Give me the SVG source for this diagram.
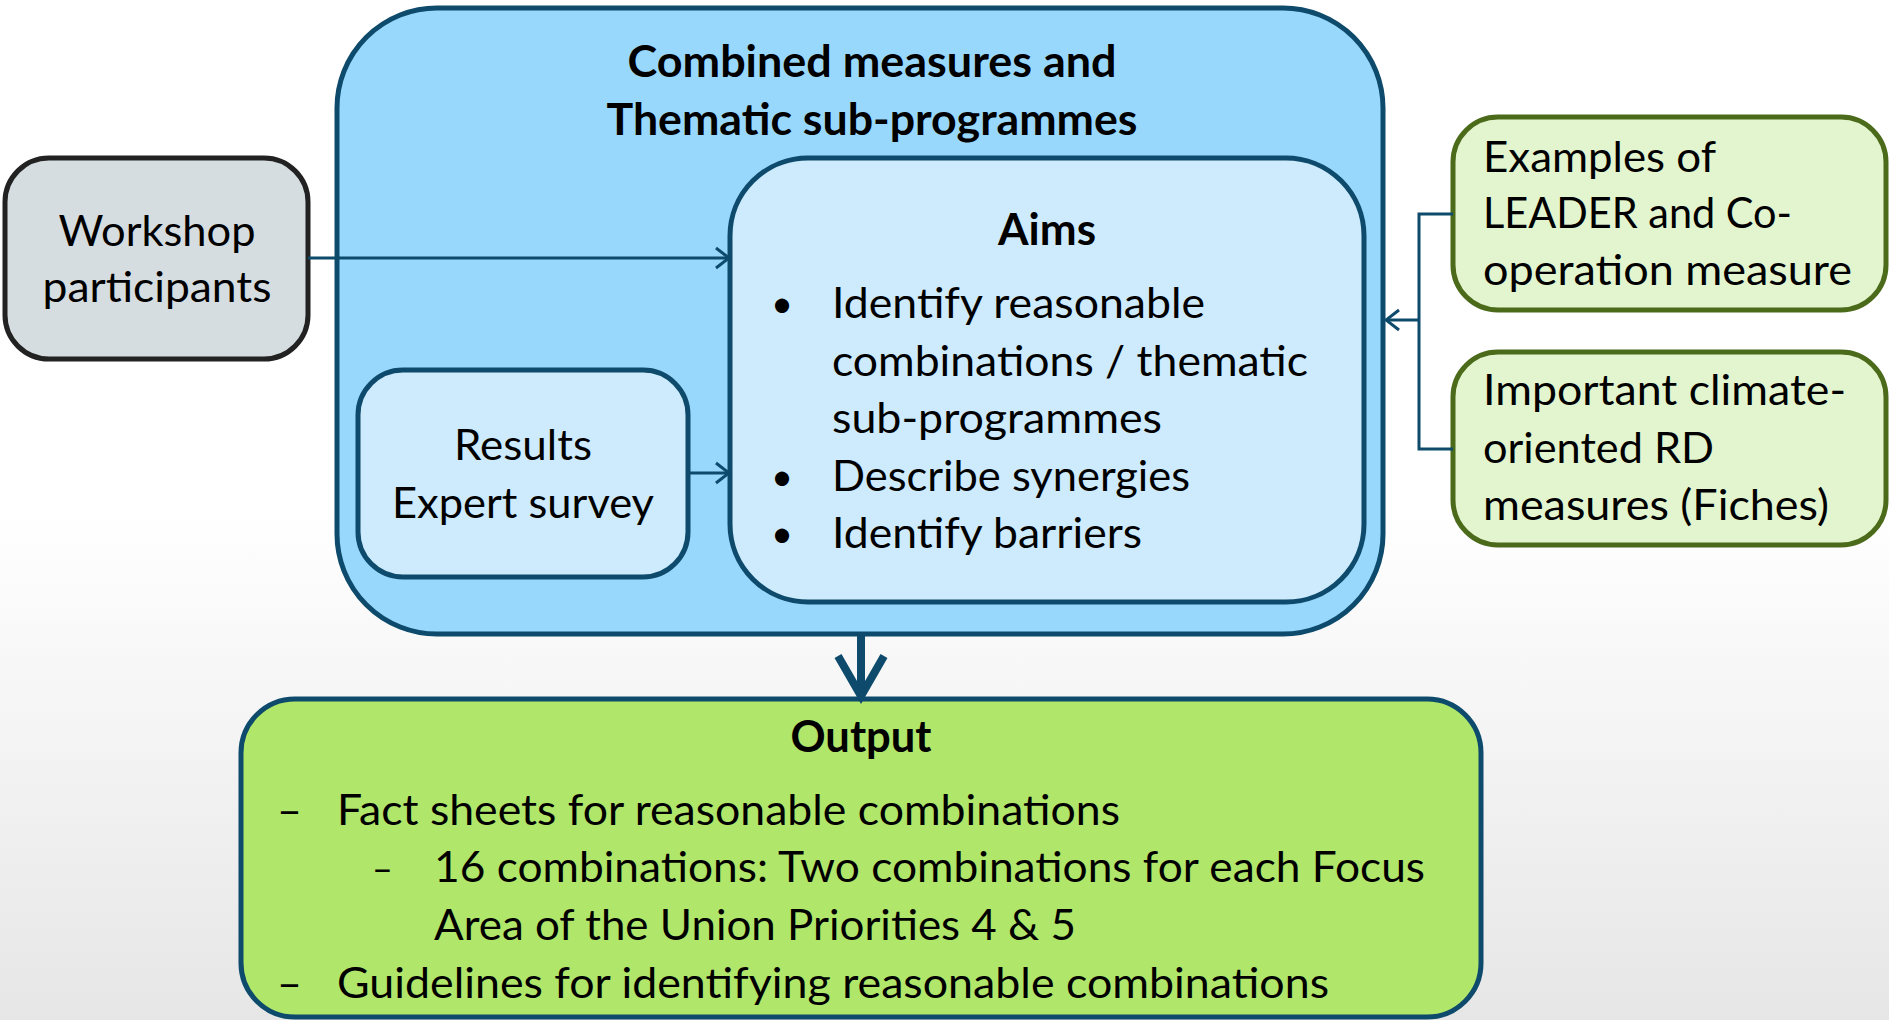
<svg xmlns="http://www.w3.org/2000/svg" width="1889" height="1020" viewBox="0 0 1889 1020">
<defs>
<linearGradient id="bg" x1="0" y1="0" x2="0" y2="1">
<stop offset="0" stop-color="#ffffff"/>
<stop offset="0.5" stop-color="#ffffff"/>
<stop offset="1" stop-color="#e6e6e6"/>
</linearGradient>
<marker id="open" markerUnits="userSpaceOnUse" viewBox="0 0 16 24" refX="14" refY="12" markerWidth="16" markerHeight="24" orient="auto">
<path d="M1,2 L14,12 L1,22" fill="none" stroke="#0d4a6b" stroke-width="3"/>
</marker>
<marker id="thick" markerUnits="userSpaceOnUse" viewBox="0 0 56 56" refX="48" refY="28" markerWidth="56" markerHeight="56" orient="auto">
<path d="M8,5 L48,28 L8,51" fill="none" stroke="#0d4a6b" stroke-width="8" stroke-linejoin="miter" stroke-miterlimit="3"/>
</marker>
<style>
.t{font-family:Lato,"Open Sans","Liberation Sans",sans-serif;font-size:43px;fill:#000}
.b{font-weight:bold}
.c{text-anchor:middle}
.bul{font-size:38px}
.blue{fill:#99d8fd;stroke:#0d4a6b;stroke-width:5}
.light{fill:#cdebfd;stroke:#0d4a6b;stroke-width:5}
.gray{fill:#d5dde0;stroke:#222222;stroke-width:5}
.green{fill:#e3f5cf;stroke:#4b6b1b;stroke-width:5}
.out{fill:#b0e66a;stroke:#0d4a6b;stroke-width:5}
.con{fill:none;stroke:#0d4a6b;stroke-width:3}
</style>
</defs>
<rect x="0" y="0" width="1889" height="1020" fill="url(#bg)"/>

<g id="combined">
<rect class="blue" x="337" y="8" width="1046" height="626" rx="100" ry="100"/>
<text class="t b c" x="872" y="77" textLength="489" lengthAdjust="spacingAndGlyphs">Combined measures and</text>
<text class="t b c" x="872" y="135" textLength="531" lengthAdjust="spacingAndGlyphs">Thematic sub-programmes</text>
</g>

<g id="aims">
<rect class="light" x="730" y="158" width="634" height="444" rx="78" ry="78"/>
<text class="t b c" x="1047" y="245" textLength="98" lengthAdjust="spacingAndGlyphs">Aims</text>
<text class="t bul" x="771" y="317">•</text>
<text class="t" x="832" y="318" textLength="373" lengthAdjust="spacingAndGlyphs">Identify reasonable</text>
<text class="t" x="832" y="376" textLength="476" lengthAdjust="spacingAndGlyphs">combinations / thematic</text>
<text class="t" x="832" y="433" textLength="330" lengthAdjust="spacingAndGlyphs">sub-programmes</text>
<text class="t bul" x="771" y="490">•</text>
<text class="t" x="832" y="491" textLength="358" lengthAdjust="spacingAndGlyphs">Describe synergies</text>
<text class="t bul" x="771" y="547">•</text>
<text class="t" x="832" y="548" textLength="310" lengthAdjust="spacingAndGlyphs">Identify barriers</text>
</g>

<g id="results">
<rect class="light" x="358" y="370" width="330" height="207" rx="45" ry="45"/>
<text class="t c" x="523" y="460" textLength="138" lengthAdjust="spacingAndGlyphs">Results</text>
<text class="t c" x="523" y="518" textLength="262" lengthAdjust="spacingAndGlyphs">Expert survey</text>
</g>

<g id="workshop">
<rect class="gray" x="5" y="158" width="303" height="201" rx="44" ry="44"/>
<text class="t c" x="157" y="246" textLength="197" lengthAdjust="spacingAndGlyphs">Workshop</text>
<text class="t c" x="157" y="302" textLength="229" lengthAdjust="spacingAndGlyphs">participants</text>
</g>

<g id="leader">
<rect class="green" x="1453" y="117" width="433" height="193" rx="45" ry="45"/>
<text class="t" x="1483" y="172" textLength="233" lengthAdjust="spacingAndGlyphs">Examples of</text>
<text class="t" x="1483" y="228" textLength="309" lengthAdjust="spacingAndGlyphs">LEADER and Co-</text>
<text class="t" x="1483" y="285" textLength="369" lengthAdjust="spacingAndGlyphs">operation measure</text>
</g>

<g id="fiches">
<rect class="green" x="1453" y="352" width="433" height="193" rx="45" ry="45"/>
<text class="t" x="1483" y="405" textLength="363" lengthAdjust="spacingAndGlyphs">Important climate-</text>
<text class="t" x="1483" y="463" textLength="231" lengthAdjust="spacingAndGlyphs">oriented RD</text>
<text class="t" x="1483" y="520" textLength="346" lengthAdjust="spacingAndGlyphs">measures (Fiches)</text>
</g>

<g id="output">
<rect class="out" x="241" y="699" width="1240" height="318" rx="54" ry="54"/>
<text class="t b c" x="861" y="752" textLength="141" lengthAdjust="spacingAndGlyphs">Output</text>
<text class="t" x="277" y="825">–</text>
<text class="t" x="337" y="825" textLength="783" lengthAdjust="spacingAndGlyphs">Fact sheets for reasonable combinations</text>
<text class="t" x="372" y="882" style="font-size:36px">–</text>
<text class="t" x="434" y="882" textLength="991" lengthAdjust="spacingAndGlyphs">16 combinations: Two combinations for each Focus</text>
<text class="t" x="434" y="940" textLength="642" lengthAdjust="spacingAndGlyphs">Area of the Union Priorities 4 &amp; 5</text>
<text class="t" x="277" y="998">–</text>
<text class="t" x="337" y="998" textLength="992" lengthAdjust="spacingAndGlyphs">Guidelines for identifying reasonable combinations</text>
</g>

<g id="connectors">
<line class="con" x1="308" y1="258" x2="729" y2="258" marker-end="url(#open)"/>
<line class="con" x1="688" y1="473" x2="729" y2="473" marker-end="url(#open)"/>
<polyline class="con" points="1453,214 1419,214 1419,449 1453,449"/>
<line class="con" x1="1419" y1="320" x2="1386" y2="320" marker-end="url(#open)"/>
<line x1="861" y1="636" x2="861" y2="696" stroke="#0d4a6b" stroke-width="8" marker-end="url(#thick)"/>
</g>
</svg>
